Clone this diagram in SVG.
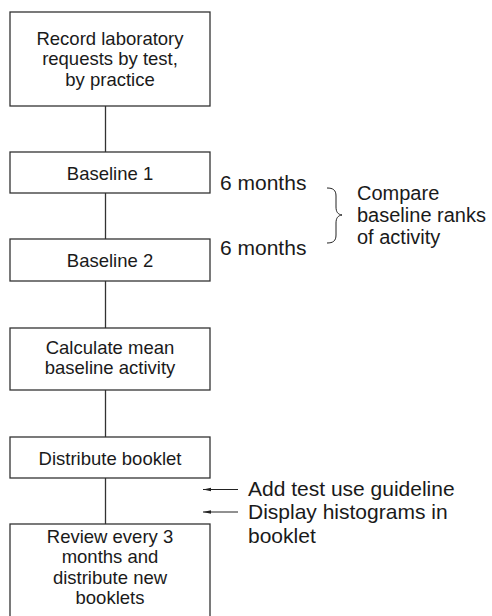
<svg xmlns="http://www.w3.org/2000/svg" width="492" height="616" viewBox="0 0 492 616">
<defs>
<marker id="ah" markerWidth="8" markerHeight="6" refX="0" refY="3" orient="auto" markerUnits="userSpaceOnUse">
<path d="M0,3 L8,1.2 L8,4.8 Z" fill="#222"/>
</marker>
<style>
.box{fill:#fff;stroke:#333;stroke-width:1.3}
.bt{font-family:"Liberation Sans",Arial,sans-serif;font-size:18.5px;fill:#1a1a1a;text-anchor:middle}
.st{font-family:"Liberation Sans",Arial,sans-serif;font-size:21px;fill:#1a1a1a}
.st2{font-family:"Liberation Sans",Arial,sans-serif;font-size:20px;fill:#1a1a1a}
.ln{stroke:#333;stroke-width:1.3;fill:none}
</style>
</defs>
<rect width="492" height="616" fill="#fff"/>
<g id="connectors">
<line class="ln" x1="105.5" y1="106" x2="105.5" y2="152"/>
<line class="ln" x1="105.5" y1="193" x2="105.5" y2="239"/>
<line class="ln" x1="105.5" y1="281" x2="105.5" y2="328"/>
<line class="ln" x1="105.5" y1="390" x2="105.5" y2="437"/>
<line class="ln" x1="105.5" y1="478" x2="105.5" y2="524"/>
<line x1="203" y1="489.5" x2="238" y2="489.5" stroke="#222" stroke-width="1" marker-start="url(#ah)"/>
<line x1="203" y1="512" x2="238" y2="512" stroke="#222" stroke-width="1" marker-start="url(#ah)"/>
<path d="M327,188 C333,188 336,190 336,196 L336,207 C336,212 338,214.5 342,215 C338,215.5 336,218 336,223 L336,235 C336,241 333,243 327,243" fill="none" stroke="#222" stroke-width="1"/>
</g>
<g id="n1">
<rect class="box" x="10" y="12" width="200" height="94"/>
<text class="bt" x="110" y="44.5">Record laboratory</text>
<text class="bt" x="110" y="65">requests by test,</text>
<text class="bt" x="110" y="85.5">by practice</text>
</g>
<g id="n2">
<rect class="box" x="10" y="152" width="200" height="41"/>
<text class="bt" x="110" y="180">Baseline 1</text>
</g>
<g id="n3">
<rect class="box" x="10" y="239" width="200" height="42"/>
<text class="bt" x="110" y="266.5">Baseline 2</text>
</g>
<g id="n4">
<rect class="box" x="10" y="328" width="200" height="62"/>
<text class="bt" x="110" y="353.5">Calculate mean</text>
<text class="bt" x="110" y="374">baseline activity</text>
</g>
<g id="n5">
<rect class="box" x="10" y="437" width="200" height="41"/>
<text class="bt" x="110" y="465">Distribute booklet</text>
</g>
<g id="n6">
<rect class="box" x="10" y="524" width="200" height="100"/>
<text class="bt" x="110" y="542.5">Review every 3</text>
<text class="bt" x="110" y="563">months and</text>
<text class="bt" x="110" y="583.5">distribute new</text>
<text class="bt" x="110" y="604">booklets</text>
</g>
<g id="labels">
<text class="st" x="220" y="190">6 months</text>
<text class="st" x="220" y="255">6 months</text>
<text class="st2" x="357" y="199.5">Compare</text>
<text class="st2" x="357" y="222">baseline ranks</text>
<text class="st2" x="357" y="244">of activity</text>
<text class="st" x="248" y="496">Add test use guideline</text>
<text class="st" x="248" y="519">Display histograms in</text>
<text class="st" x="248" y="543">booklet</text>
</g>
</svg>
